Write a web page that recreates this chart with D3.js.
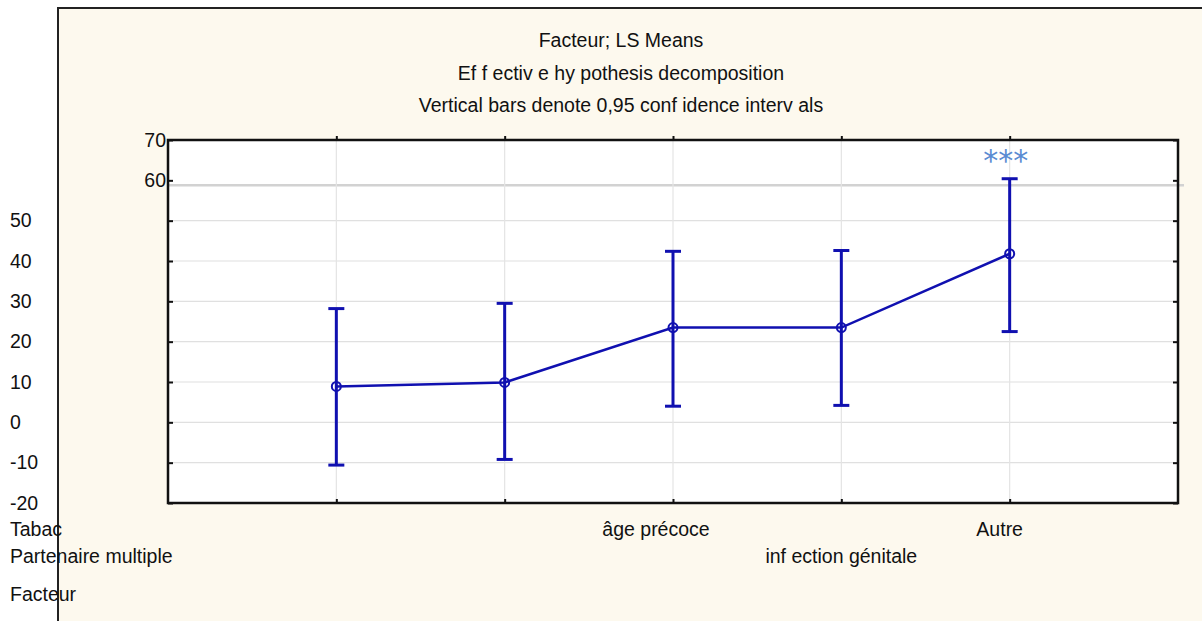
<!DOCTYPE html>
<html>
<head>
<meta charset="utf-8">
<script src="https://cdn.jsdelivr.net/npm/d3@7"></script>
<style>
  body { margin: 0; background: #fff; }
  text { font-family: "Liberation Sans", Arial, sans-serif; fill: #111; }
</style>
</head>
<body>
<div id="vis"></div>
<script>
// data
const categories = ['Tabac', 'Partenaire multiple', 'âge précoce', 'inf ection génitale', 'Autre'];
const means = [8.9, 9.9, 23.5, 23.5, 41.8];
const lower = [-10.6, -9.2, 4.0, 4.2, 22.5];
const upper = [28.2, 29.5, 42.4, 42.6, 60.4];
const yTicks = [-20, -10, 0, 10, 20, 30, 40, 50, 60, 70];
const titles = ['Facteur; LS Means', 'Ef f ectiv e hy pothesis decomposition', 'Vertical bars denote 0,95 conf idence interv als'];
const xTitle = 'Facteur';
const marker = '***';

const W = 1202, H = 621;
const plot = { left: 168, right: 1178, top: 140, bottom: 503 };
const lineColor = '#1010b0';
const fontSize = '19.5px';

const svg = d3.select('#vis')
    .append('svg')
    .attr('width', W)
    .attr('height', H);

// cream panel
svg.append('rect')
    .attr('x', 58).attr('y', 8)
    .attr('width', W - 58).attr('height', H - 8)
    .attr('fill', '#fdf9ee');
svg.append('path')
    .attr('d', `M58,${H} V8 H${W}`)
    .attr('fill', 'none')
    .attr('stroke', '#222')
    .attr('stroke-width', 2);

// scales
const xScale = d3.scalePoint()
    .domain(categories)
    .range([plot.left, plot.right])
    .padding(1);

const yScale = d3.scaleLinear()
    .domain([-20, 70])
    .range([plot.bottom, plot.top]);

// plot background
svg.append('rect')
    .attr('x', plot.left).attr('y', plot.top)
    .attr('width', plot.right - plot.left)
    .attr('height', plot.bottom - plot.top)
    .attr('fill', '#fff');

// grid
svg.append('g')
    .selectAll('line')
    .data(yTicks.filter(d => d > -20 && d < 70))
    .join('line')
    .attr('x1', plot.left)
    .attr('x2', d => d === 60 ? plot.right + 6 : plot.right)
    .attr('y1', d => d === 60 ? yScale(d) + 5 : yScale(d))
    .attr('y2', d => d === 60 ? yScale(d) + 5 : yScale(d))
    .attr('stroke', d => d === 60 ? '#d2d2d2' : '#e0e0e0')
    .attr('stroke-width', d => d === 60 ? 2.5 : 1.2);

svg.append('g')
    .selectAll('line')
    .data(categories)
    .join('line')
    .attr('x1', d => xScale(d)).attr('x2', d => xScale(d))
    .attr('y1', plot.top).attr('y2', plot.bottom)
    .attr('stroke', '#e4e4e4')
    .attr('stroke-width', 1.2);

// axes
const yAxis = svg.append('g')
    .attr('transform', `translate(${plot.left},0)`)
    .call(d3.axisLeft(yScale).tickValues(yTicks).tickSize(-5).tickPadding(5).tickFormat(d => String(d)));
yAxis.select('.domain').remove();
yAxis.selectAll('.tick line').attr('stroke', '#111').attr('stroke-width', 2);
yAxis.selectAll('.tick text')
    .style('font-size', fontSize)
    .attr('text-anchor', d => d >= 60 ? 'end' : 'start')
    .attr('x', d => d >= 60 ? -2 : 10 - plot.left);

const yAxisR = svg.append('g')
    .attr('transform', `translate(${plot.right},0)`)
    .call(d3.axisRight(yScale).tickValues(yTicks).tickSize(-5).tickFormat(''));
yAxisR.select('.domain').remove();
yAxisR.selectAll('.tick line').attr('stroke', '#111').attr('stroke-width', 2);

const xAxisT = svg.append('g')
    .attr('transform', `translate(0,${plot.top})`)
    .call(d3.axisTop(xScale).tickSize(4).tickFormat(''));
xAxisT.select('.domain').remove();
xAxisT.selectAll('.tick line').attr('stroke', '#111').attr('stroke-width', 2);

const xAxisB = svg.append('g')
    .attr('transform', `translate(0,${plot.bottom})`)
    .call(d3.axisBottom(xScale).tickSize(-4).tickFormat(''));
xAxisB.select('.domain').remove();
xAxisB.selectAll('.tick line').attr('stroke', '#111').attr('stroke-width', 2);

// frame
svg.append('rect')
    .attr('x', plot.left).attr('y', plot.top)
    .attr('width', plot.right - plot.left)
    .attr('height', plot.bottom - plot.top)
    .attr('fill', 'none')
    .attr('stroke', '#111')
    .attr('stroke-width', 2.5);

// category labels (staggered rows like the original)
const labelRow = [0, 1, 0, 1, 0];
const labelDx = [0, 0, -17, 0, -10];
svg.append('g')
    .selectAll('text')
    .data(categories)
    .join('text')
    .attr('x', (d, i) => i < 2 ? 10 : xScale(d) + labelDx[i])
    .attr('y', (d, i) => 536 + labelRow[i] * 27)
    .attr('text-anchor', (d, i) => i < 2 ? 'start' : 'middle')
    .style('font-size', fontSize)
    .text(d => d);

svg.append('text')
    .attr('x', 10).attr('y', 601)
    .style('font-size', fontSize)
    .text(xTitle);

// titles
svg.append('g')
    .selectAll('text')
    .data(titles)
    .join('text')
    .attr('x', 621)
    .attr('y', (d, i) => 47 + i * 32.5)
    .attr('text-anchor', 'middle')
    .style('font-size', fontSize)
    .text(d => d);

// data
const points = categories.map((c, i) => ({ c, m: means[i], lo: lower[i], hi: upper[i] }));

const bars = svg.append('g')
    .attr('stroke', lineColor)
    .attr('stroke-width', 3)
    .attr('fill', 'none');

bars.selectAll('.whisker')
    .data(points)
    .join('line')
    .attr('class', 'whisker')
    .attr('x1', d => xScale(d.c)).attr('x2', d => xScale(d.c))
    .attr('y1', d => yScale(d.lo)).attr('y2', d => yScale(d.hi));

bars.selectAll('.cap')
    .data(points.flatMap(d => [{ c: d.c, v: d.lo }, { c: d.c, v: d.hi }]))
    .join('line')
    .attr('class', 'cap')
    .attr('x1', d => xScale(d.c) - 8).attr('x2', d => xScale(d.c) + 8)
    .attr('y1', d => yScale(d.v)).attr('y2', d => yScale(d.v));

const line = d3.line()
    .x(d => xScale(d.c))
    .y(d => yScale(d.m));

svg.append('path')
    .datum(points)
    .attr('d', line)
    .attr('fill', 'none')
    .attr('stroke', lineColor)
    .attr('stroke-width', 2.5);

svg.selectAll('.point')
    .data(points)
    .join('circle')
    .attr('class', 'point')
    .attr('cx', d => xScale(d.c))
    .attr('cy', d => yScale(d.m))
    .attr('r', 4.5)
    .attr('fill', 'none')
    .attr('stroke', lineColor)
    .attr('stroke-width', 2);

// significance marker over last category
svg.append('text')
    .attr('x', xScale(categories[4]) - 4)
    .attr('y', yScale(upper[4]) - 8)
    .attr('text-anchor', 'middle')
    .style('font-family', '"DejaVu Sans", sans-serif')
    .style('font-size', '30px')
    .style('fill', '#5a8bd2')
    .text(marker);
</script>
</body>
</html>
